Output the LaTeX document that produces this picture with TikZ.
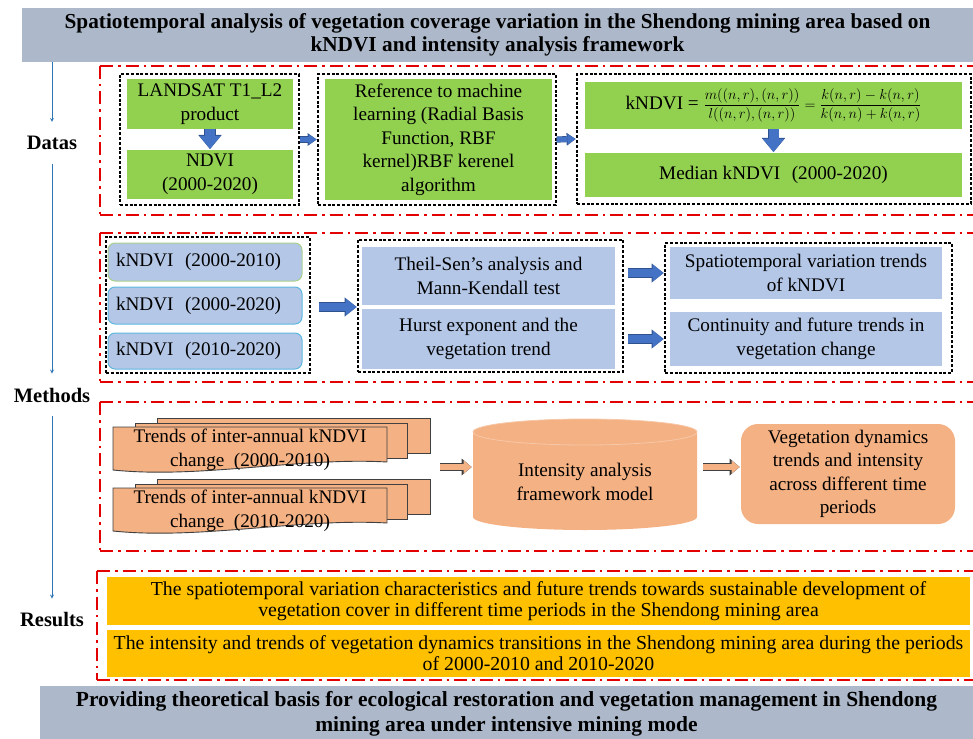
\documentclass[tikz,border=0pt]{standalone}
\usepackage{amsmath}
\usepackage{fontspec}
\setmainfont{Liberation Serif}
\usetikzlibrary{arrows.meta,positioning,calc}
\definecolor{titlegray}{HTML}{ADB9CA}
\definecolor{vgreen}{HTML}{92D050}
\definecolor{lblue}{HTML}{B4C7E7}
\definecolor{vorange}{HTML}{F4B183}
\definecolor{ryellow}{HTML}{FFC000}
\definecolor{framered}{RGB}{226,0,0}
\definecolor{arrowblue}{HTML}{4472C4}
\definecolor{arrowdark}{HTML}{2F528F}
\definecolor{lineblue}{HTML}{2E75B6}
\definecolor{docedge}{HTML}{404040}
\definecolor{kgreen}{HTML}{A9D18E}
\definecolor{kcyan}{HTML}{5DB8E0}
\newcommand\bodysize{\fontsize{19.2}{23.5}\selectfont}
\newcommand\titlesize{\fontsize{21.3}{23.5}\selectfont}
\newcommand\closingsize{\fontsize{21.5}{25}\selectfont}
\newcommand\resultsize{\fontsize{19.8}{21}\selectfont}
\newcommand\labelsize{\fontsize{20.5}{24}\selectfont}
\tikzset{
  titlebox/.style={fill=titlegray, align=center, inner sep=0pt, font=\titlesize\bfseries},
  sidelabel/.style={font=\labelsize\bfseries, inner xsep=0pt, inner ysep=14pt},
  redframe/.style={draw=framered, line width=2.6pt, dash pattern=on 13pt off 5pt on 2.5pt off 5pt},
  dashbox/.style={draw=black, line width=1.2pt, dash pattern=on 3pt off 1.8pt, inner sep=0pt},
  greenbox/.style={fill=vgreen, align=center, inner sep=0pt},
  bluebox/.style={fill=lblue, align=center, inner sep=0pt},
  periodbox/.style={fill=lblue, draw=#1, line width=1pt, rounded corners=7pt, inner sep=0pt,
    minimum width=194pt, text width=178pt, align=left},
  docshape/.style={fill=vorange, draw=docedge, line width=0.9pt},
  dynbox/.style={fill=vorange, rounded corners=17pt, align=center, inner sep=0pt},
  resultbox/.style={fill=ryellow, align=center, inner sep=0pt, font=\resultsize},
  flowarrow/.style={->, draw=lineblue, line width=0.8pt},
  bluearrow/.style={draw=arrowblue, line width=#1, shorten >=0.8pt,
    -{Triangle[length=#1+3pt, width=2.1*#1, line width=0pt]},
    preaction={draw=arrowdark, line width=#1+1.2pt, -{Triangle[length=#1+4pt, width=2.1*#1+2.4pt, line width=0pt]}}},
  hollowarrow/.style={draw=vorange, line width=6pt, shorten >=1.2pt, shorten <=1pt,
    -{Triangle[length=8pt, width=13pt, line width=0pt]},
    preaction={draw=docedge, line width=8pt, -{Triangle[length=10pt, width=17pt, line width=0pt]}}},
}
\begin{document}
\begin{tikzpicture}[x=1pt,y=1pt,>=stealth,font=\bodysize]
\clip (0,0) rectangle (973,-738);
% heading and closing statement
\node[titlebox, minimum width=951pt, minimum height=54pt] (title) at (497.5,-35)
  {Spatiotemporal analysis of vegetation coverage variation in the Shendong mining area based on\\ kNDVI and intensity analysis framework};
\node[titlebox, font=\closingsize\bfseries, minimum width=933pt, minimum height=56pt] (closing) at (506.5,-714)
  {Providing theoretical basis for ecological restoration and vegetation management in Shendong\\ mining area under intensive mining mode};
% side labels
\node[sidelabel] (datas) at (52,-143) {Datas};
\node[sidelabel] (methods) at (52,-395) {Methods};
\node[sidelabel] (results) at (52,-620) {Results};
\draw[flowarrow] (title.south -| datas.north) -- (datas.north);
\draw[flowarrow] (datas.south) -- (methods.north);
\draw[flowarrow] (methods.south) -- (results.north);
% red frames
\foreach \top/\bot/\lft in {66/215/100, 233/382/100, 402/551/100, 571/680/97} {
  \draw[redframe] (\lft,-\top) -- (990,-\top);
  \draw[redframe] (\lft,-\top) -- (\lft,-\bot);
  \draw[redframe] (\lft,-\bot) -- (990,-\bot);
}
% data preparation
\node[dashbox, minimum width=179pt, minimum height=131pt] (datagroup) at (209.5,-139.5) {};
\node[greenbox, minimum width=166pt, minimum height=50pt] (landsat) at (210,-104) {LANDSAT T1\_L2\\ product};
\node[greenbox, minimum width=166pt, minimum height=49pt] (ndvi) at (210,-174.5) {NDVI\\ (2000-2020)};
\node[dashbox, minimum width=238pt, minimum height=131pt] (kernelgroup) at (437,-139.5) {};
\node[greenbox, minimum width=227pt, minimum height=121pt] (rbf) at (438.5,-139.5)
  {Reference to machine\\ learning (Radial Basis\\ Function, RBF\\ kernel)RBF kerenel\\ algorithm};
\node[dashbox, minimum width=394pt, minimum height=130pt] (kndvigroup) at (774,-139) {};
\node[greenbox, minimum width=377pt, minimum height=47pt] (formula) at (773.5,-105.5)
  {kNDVI = {\fontsize{15}{17}\selectfont$\dfrac{m((n,r),(n,r))}{l((n,r),(n,r))}=\dfrac{k(n,r)-k(n,r)}{k(n,n)+k(n,r)}$}};
\node[greenbox, minimum width=377pt, minimum height=44pt] (median) at (773.5,-175) {Median kNDVI\hspace{0.6em}(2000-2020)};
\draw[bluearrow=10pt] (landsat) -- (ndvi);
\draw[bluearrow=10pt] (formula) -- (median);
\draw[bluearrow=5pt] (datagroup.east) -- (kernelgroup.west);
\draw[bluearrow=5pt] (kernelgroup.east) -- (kndvigroup.west);
% trend methods
\node[dashbox, minimum width=204pt, minimum height=136pt] (periods) at (208,-305) {};
\node[periodbox=kgreen, minimum height=38pt] (k1) at (205,-262) {kNDVI\hspace{0.6em}(2000-2010)};
\node[periodbox=kcyan, minimum height=37pt] (k2) at (205,-305.5) {kNDVI\hspace{0.6em}(2000-2020)};
\node[periodbox=kcyan, minimum height=36pt] (k3) at (205,-351) {kNDVI\hspace{0.6em}(2010-2020)};
\node[dashbox, minimum width=265pt, minimum height=132pt] (trendgroup) at (490.5,-306) {};
\node[bluebox, minimum width=253pt, minimum height=58pt] (theil) at (488.5,-276) {Theil-Sen's analysis and\\ Mann-Kendall test};
\node[bluebox, minimum width=253pt, minimum height=60pt] (hurst) at (488.5,-339) {Hurst exponent and the\\ vegetation trend};
\node[dashbox, minimum width=287pt, minimum height=130pt] (outgroup) at (808.5,-308) {};
\node[bluebox, minimum width=272pt, minimum height=52pt] (spatial) at (806,-273) {Spatiotemporal variation trends\\ of kNDVI};
\node[bluebox, minimum width=272pt, minimum height=54pt] (continuity) at (806,-339) {Continuity and future trends in\\ vegetation change};
\draw[bluearrow=8pt, shorten <=8pt] (periods.east |- 0,-307) -- (trendgroup.west |- 0,-307);
\draw[bluearrow=8pt, shorten <=4pt] (trendgroup.east |- spatial) -- (outgroup.west |- spatial);
\draw[bluearrow=8pt, shorten <=4pt] (trendgroup.east |- hurst) -- (outgroup.west |- hurst);
% intensity analysis
\foreach \dy/\period [count=\i] in {0/2000-2010, 61/2010-2020} {
  \begin{scope}[yshift=-\dy pt]
    \filldraw[docshape] (157,-418) rectangle (430,-453);
    \filldraw[docshape] (135,-423) rectangle (407,-458);
    \filldraw[docshape] (113,-427) -- (387,-427) -- (387,-462)
      .. controls (300,-457) and (200,-479) .. (113,-470) -- cycle;
    \node[align=center, inner sep=0pt] (doc\i) at (250,-450) {Trends of inter-annual kNDVI\\ change\hspace{0.5em}(\period)};
  \end{scope}
}
\coordinate (docsout) at (439,-467);
\fill[vorange] (473,-432) -- (473,-517) arc[start angle=180, end angle=360, x radius=112, y radius=13]
  -- (697,-432) arc[start angle=0, end angle=180, x radius=112, y radius=13] -- cycle;
\draw[vorange!70!white, line width=0.8pt] (585,-432) ellipse[x radius=112, y radius=13];
\node[align=center, inner sep=0pt, minimum width=224pt, minimum height=90pt] (cyl) at (585,-482)
  {Intensity analysis\\ framework model};
\node[dynbox, minimum width=214pt, minimum height=100pt] (dyn) at (848,-474)
  {Vegetation dynamics\\ trends and intensity\\ across different time\\ periods};
\draw[hollowarrow] (docsout) -- (cyl.west |- docsout);
\draw[hollowarrow, shorten <=6pt] (cyl.east |- docsout) -- (dyn.west |- docsout);
% results
\node[resultbox, minimum width=863pt, minimum height=48pt] (res1) at (538.5,-601)
  {The spatiotemporal variation characteristics and future trends towards sustainable development of\\ vegetation cover in different time periods in the Shendong mining area};
\node[resultbox, minimum width=863pt, minimum height=47pt] (res2) at (538.5,-653)
  {The intensity and trends of vegetation dynamics transitions in the Shendong mining area during the periods\\ of 2000-2010 and 2010-2020};
\end{tikzpicture}
\end{document}
